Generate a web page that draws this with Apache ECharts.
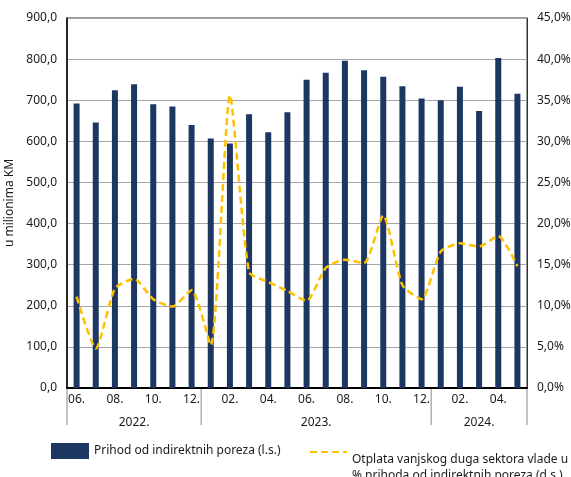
<!DOCTYPE html>
<html>
<head>
<meta charset="utf-8">
<script src="https://cdn.jsdelivr.net/npm/echarts@6/dist/echarts.min.js"></script>
<style>html,body{margin:0;padding:0;background:#fff}#c{width:571px;height:477px}</style>
</head>
<body>
<div id="c"></div>
<script>
var months = ['06.','07.','08.','09.','10.','11.','12.','01.','02.','03.','04.','05.','06.','07.','08.','09.','10.','11.','12.','01.','02.','03.','04.','05.'];
var years = ['2022.','2023.','2024.'];
var revenue = [692,646,724,739,690,685,640,607,595,666,622,671,750,767,796,773,757,734,704,700,733,674,803,716];
var debtShare = [11.1,4.8,12.1,13.3,10.8,9.9,11.9,5.2,35.6,14.1,12.9,11.8,10.6,14.6,15.6,15.2,21.0,12.5,10.8,16.6,17.6,17.2,18.5,14.8];
var leftTicks = {min:0,max:900,interval:100};
var rightTicks = {min:0,max:45,interval:5};
var nameBars = 'Prihod od indirektnih poreza (l.s.)';
var nameLine = 'Otplata vanjskog duga sektora vlade u\n% prihoda od indirektnih poreza (d.s.)';

var FONT = 'Noto Sans';
var TXT = '#1a1a1a';
function fmt1(v){return v.toFixed(1).replace('.', ',');}

var chart = echarts.init(document.getElementById('c'));
chart.setOption({
  animation:false,
  textStyle:{fontFamily:FONT},
  grid:{left:67,right:44,top:18,bottom:89,show:true,borderColor:'#333',borderWidth:1,outerBoundsMode:'none',containLabel:false},
  legend:[
    {data:[nameBars],left:46,top:438,itemWidth:38,itemHeight:16,icon:'rect',itemGap:4,
     textStyle:{fontFamily:FONT,fontSize:12,color:TXT}},
    {data:[nameLine],left:304,top:415,itemWidth:37,itemHeight:14,itemGap:4,
     itemStyle:{opacity:0},
     formatter:function(n){return '\n\n'+n;},
     textStyle:{fontFamily:FONT,fontSize:12,color:TXT,lineHeight:16}}
  ],
  xAxis:[{
    type:'category',data:months,boundaryGap:true,
    axisLine:{show:true,lineStyle:{color:'#000',width:2}},
    axisTick:{show:false},
    axisLabel:{interval:1,margin:6,fontFamily:FONT,fontSize:12,color:TXT},
    splitLine:{show:false}
  }],
  yAxis:[{
    type:'value',min:leftTicks.min,max:leftTicks.max,interval:leftTicks.interval,
    name:'u milionima KM',nameLocation:'middle',nameGap:48,nameRotate:90,
    nameTextStyle:{fontFamily:FONT,fontSize:12,color:TXT},
    axisLine:{show:true,lineStyle:{color:'#000',width:1.5}},
    axisTick:{show:false},
    axisLabel:{margin:10,fontFamily:FONT,fontSize:12,color:TXT,formatter:fmt1},
    splitLine:{show:true,lineStyle:{color:'#a6a6a6',width:1.2}}
  },{
    type:'value',min:rightTicks.min,max:rightTicks.max,interval:rightTicks.interval,
    position:'right',
    axisLine:{show:true,lineStyle:{color:'#333',width:1}},
    axisTick:{show:false},
    axisLabel:{margin:10,fontFamily:FONT,fontSize:12,color:TXT,formatter:function(v){return fmt1(v)+'%';}},
    splitLine:{show:false}
  }],
  series:[{
    name:nameBars,type:'bar',data:revenue,barWidth:6,yAxisIndex:0,
    itemStyle:{color:'#1d3762'}
  },{
    name:nameLine,type:'line',data:debtShare,yAxisIndex:1,smooth:0.2,
    symbol:'none',showSymbol:false,
    lineStyle:{color:'#ffc000',width:2.5,type:[7,4]},
    itemStyle:{color:'#ffc000'}
  }]
});

// year groups row below the month labels, positioned via the axis scale
(function(){
  var starts = [];
  months.forEach(function(m,i){ if(i===0 || m==='01.') starts.push(i); });
  var p0 = chart.convertToPixel({xAxisIndex:0},0);
  var p1 = chart.convertToPixel({xAxisIndex:0},1);
  var band = p1 - p0;
  var yBase = chart.convertToPixel({yAxisIndex:0},0);
  var els = [];
  var bounds = starts.map(function(s){return chart.convertToPixel({xAxisIndex:0},s) - band/2;});
  bounds.push(chart.convertToPixel({xAxisIndex:0},months.length-1) + band/2);
  bounds.forEach(function(x){
    els.push({type:'line',shape:{x1:x,y1:yBase,x2:x,y2:yBase+37},style:{stroke:'#888',lineWidth:1},silent:true});
  });
  for(var g=0; g<years.length; g++){
    els.push({type:'text',x:(bounds[g]+bounds[g+1])/2,y:yBase+35,
      style:{text:years[g],fontFamily:FONT,fontSize:12,fill:TXT,align:'center',verticalAlign:'middle'}});
  }
  chart.setOption({graphic:els});
})();
</script>
</body>
</html>
